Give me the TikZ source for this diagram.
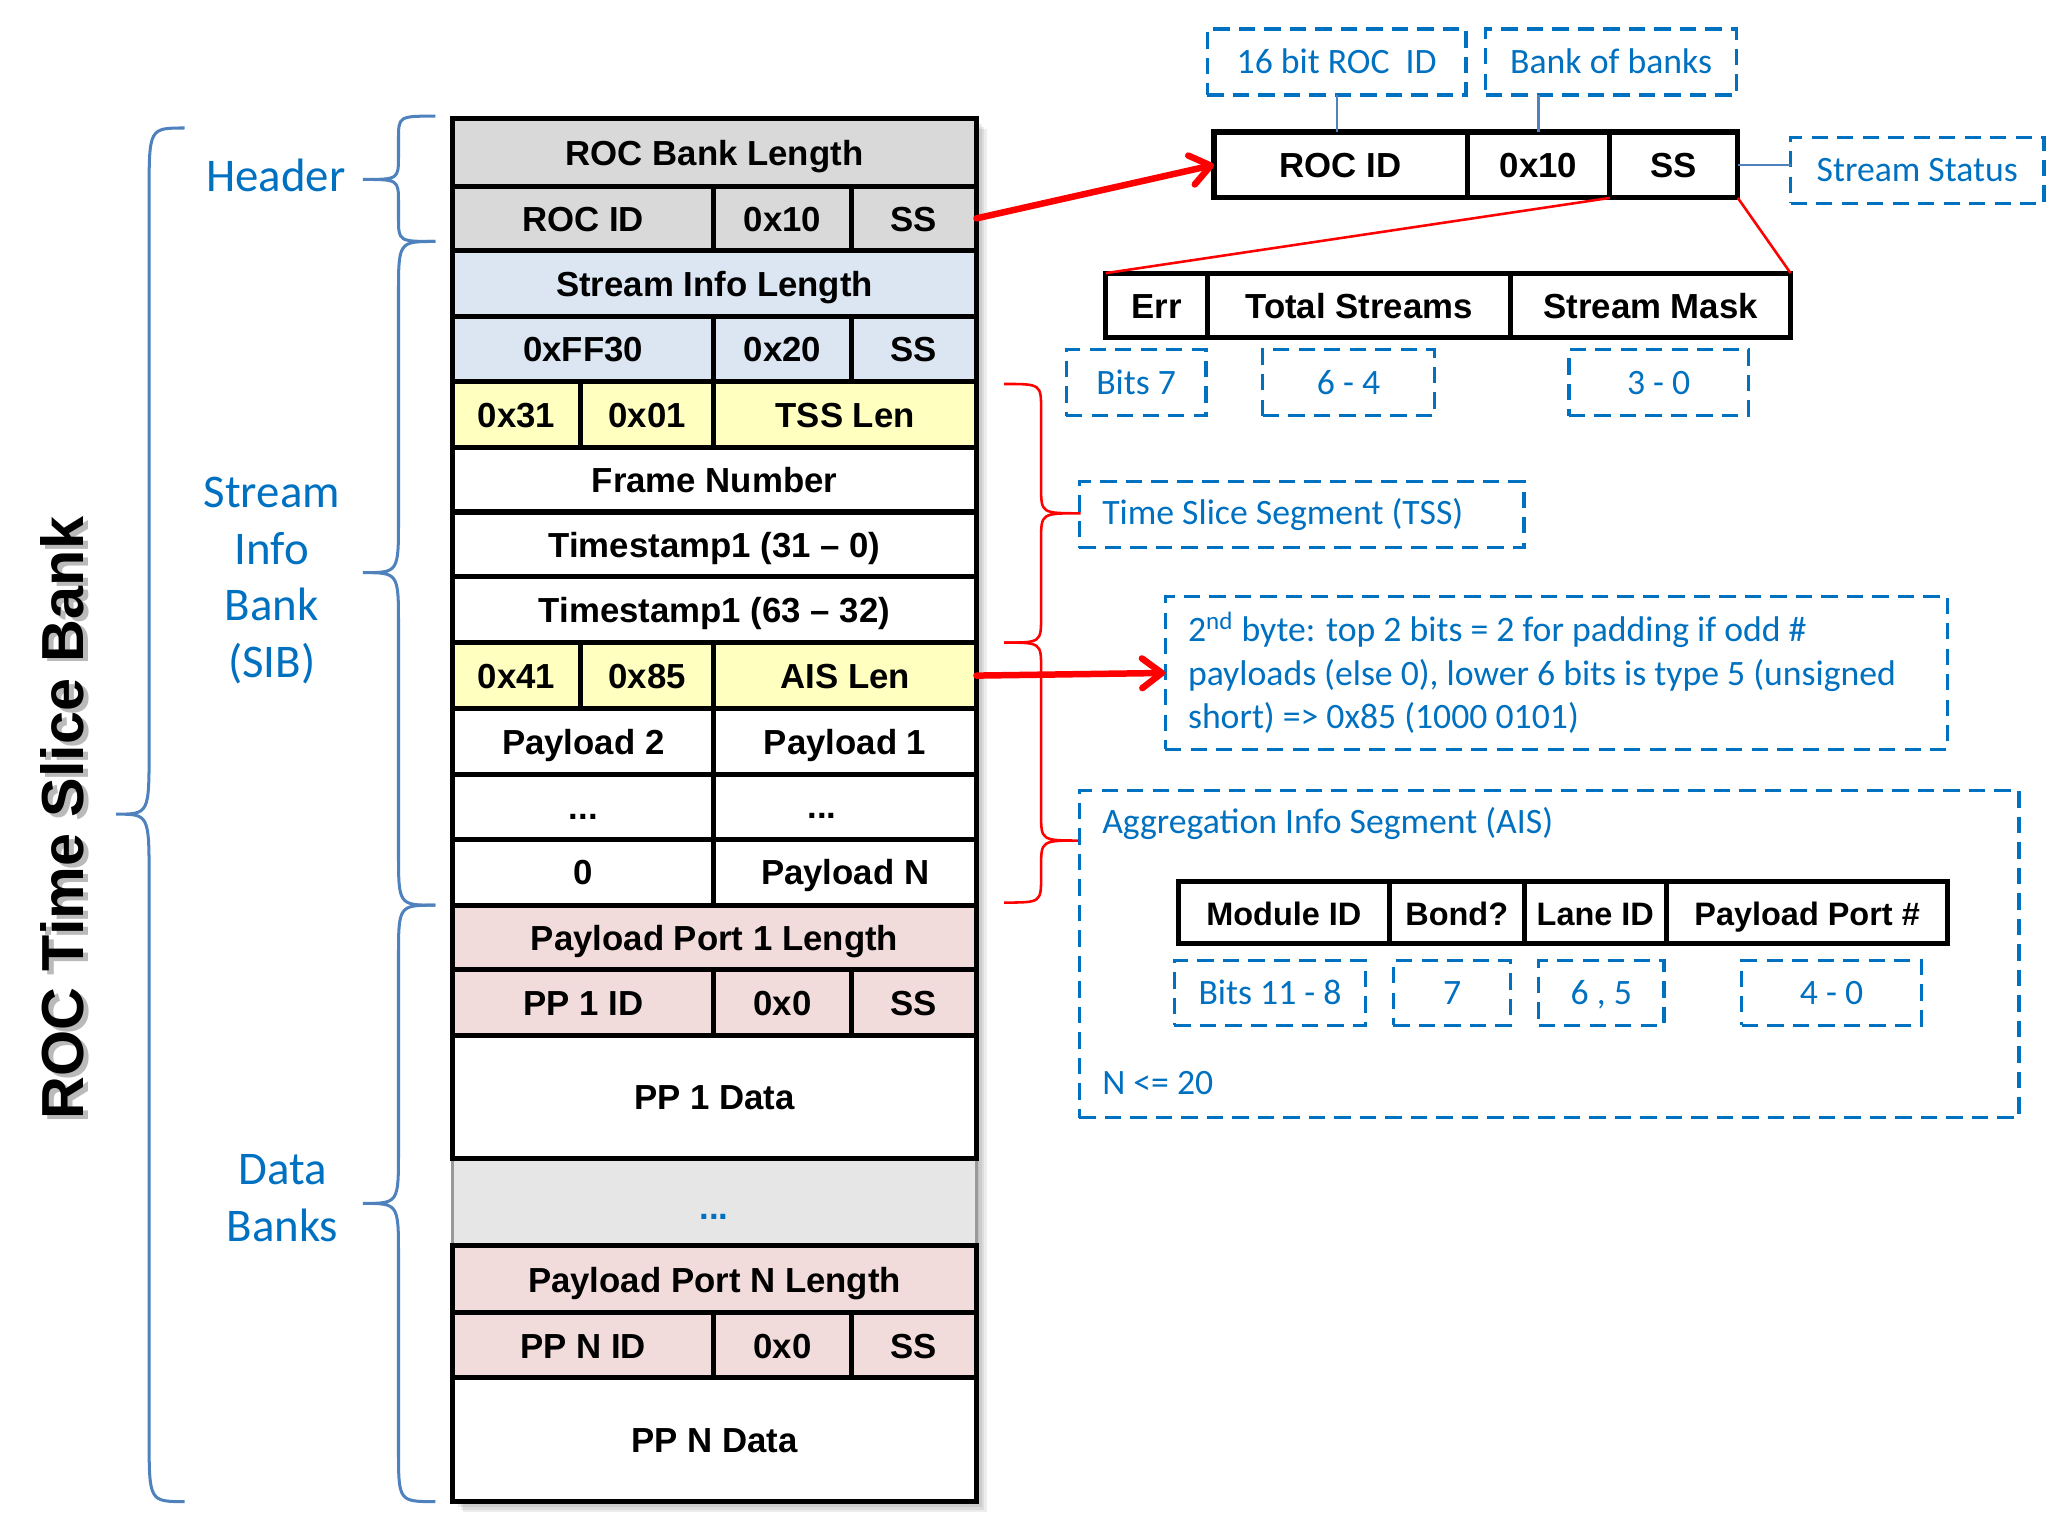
\documentclass[tikz,border=0pt]{standalone}
\usepackage{fontspec}
\setmainfont{Carlito}
\newfontfamily\arialfont{Liberation Sans}
\usetikzlibrary{arrows.meta,calc,fit,positioning}
\definecolor{HdrGray}{HTML}{D9D9D9}
\definecolor{InfoBlue}{HTML}{DCE6F2}
\definecolor{SegYellow}{HTML}{FFFFC0}
\definecolor{PortPink}{HTML}{F2DCDB}
\definecolor{GapGray}{HTML}{E6E6E6}
\definecolor{NoteBlue}{HTML}{0070C0}
\definecolor{BraceBlue}{HTML}{4F81BD}
\definecolor{Red}{HTML}{FF0000}
\newcommand{\boxfont}{\arialfont\bfseries\fontsize{15}{18}\selectfont}
\newcommand{\notefont}{\fontsize{15.4}{18.7}\selectfont}
\tikzset{cell/.style={draw=black,line width=2.2pt,inner sep=0pt,outer sep=0pt},celltext/.style={inner sep=0pt,font=\boxfont,text height=11pt,text depth=0pt},note/.style={draw=NoteBlue,line width=1.4pt,dash pattern=on 7pt off 4pt,inner sep=0pt,outer sep=0pt},notetext/.style={inner sep=0pt,text=NoteBlue,font=\notefont,text height=10pt,text depth=0pt},lbl/.style={text=NoteBlue,font=\notefont,inner sep=0pt},part/.style={text=NoteBlue,font=\fontsize{20.2}{24.4}\selectfont,align=center},curl/.style={draw=BraceBlue,line width=1.3pt},redcurl/.style={draw=Red,line width=1.1pt},zoomline/.style={draw=Red,line width=1.1pt},tagline/.style={draw=BraceBlue,line width=1pt},pointer/.style={draw=Red,line width=2.8pt,line cap=round,-{Straight Barb[length=3mm,width=4.5mm,round]}}}
\newcommand{\cell}[5][fill=white]{\node[cell,#1,fit={(#3)(#4)}] (#2) {}; \node[celltext] (#2t) at (#2.center) {#5};}
\newcommand{\dashnote}[4]{\node[note,fit={(#2)(#3)}] (#1) {}; \node[notetext] (#1t) at (#1.center) {#4};}
\newcommand{\curly}[8][curl]{\draw[#1] (#2,#5) .. controls (#3,#5) .. (#3,#5+#8) -- (#3,#6-#8) .. controls (#3,#6) .. (#4,#6) .. controls (#3,#6) .. (#3,#6+#8) -- (#3,#7-#8) .. controls (#3,#7) .. (#2,#7);}
\begin{document}
\begin{tikzpicture}[x=0.02cm,y=-0.02cm]
  \useasboundingbox (0,0) rectangle (1568,1166);
  \foreach \k in {1,...,4} \fill[black,opacity=.07] (343+2*\k,90+2*\k) rectangle (740+2*\k,1138+2*\k);
  \node[rotate=90,text=black!45,opacity=.6,font=\arialfont\bfseries\fontsize{25.6}{30}\selectfont] at (51,623) {ROC Time Slice Bank};
  \node[rotate=90,font=\arialfont\bfseries\fontsize{25.6}{30}\selectfont] (title) at (47,620) {ROC Time Slice Bank};
  \curly{140}{113}{88}{97}{617}{1138}{50}
  \curly{330}{302}{275}{88}{136}{183}{18}
  \curly{330}{302}{275}{183}{434}{686}{40}
  \curly{330}{302}{275}{686}{912}{1138}{40}
  \node[part] (hdr) at (209,133) {Header};
  \node[part] (sib) at (206,440) {Stream\\Info\\Bank\\(SIB)};
  \node[part] (dbk) at (214,908) {Data\\Banks};
  \cell[fill=GapGray,draw=black!40,line width=1.2pt]{gap}{343,878}{740,944}{}
  \cell[fill=HdrGray]{rbl}{343,90}{740,141}{ROC Bank Length}
  \cell[fill=HdrGray]{rid}{343,141}{541,190}{ROC ID}
  \cell[fill=HdrGray]{rten}{541,141}{645,190}{0x10}
  \cell[fill=HdrGray]{rss}{645,141}{740,190}{SS}
  \cell[fill=InfoBlue]{sil}{343,190}{740,240}{Stream Info Length}
  \cell[fill=InfoBlue]{sff}{343,240}{541,289}{0xFF30}
  \cell[fill=InfoBlue]{stw}{541,240}{645,289}{0x20}
  \cell[fill=InfoBlue]{sss}{645,240}{740,289}{SS}
  \cell[fill=SegYellow]{tthree}{343,289}{440,339}{0x31}
  \cell[fill=SegYellow]{tone}{440,289}{541,339}{0x01}
  \cell[fill=SegYellow]{tsslen}{541,289}{740,339}{TSS Len}
  \cell{frame}{343,339}{740,388}{Frame Number}
  \cell{tslo}{343,388}{740,437}{Timestamp1 (31 – 0)}
  \cell{tshi}{343,437}{740,487}{Timestamp1 (63 – 32)}
  \cell[fill=SegYellow]{afour}{343,487}{440,537}{0x41}
  \cell[fill=SegYellow]{aeight}{440,487}{541,537}{0x85}
  \cell[fill=SegYellow]{aislen}{541,487}{740,537}{AIS Len}
  \cell{pltwo}{343,537}{541,587}{Payload 2}
  \cell{plone}{541,537}{740,587}{Payload 1}
  \cell{dotsl}{343,587}{541,636}{...}
  \cell{dotsr}{541,587}{740,636}{}
  \node[celltext] (dotsrdots) at (623,611) {...};
  \cell{zero}{343,636}{541,686}{0}
  \cell{pln}{541,636}{740,686}{Payload N}
  \cell[fill=PortPink]{ponelen}{343,686}{740,735}{Payload Port 1 Length}
  \cell[fill=PortPink]{poneid}{343,735}{541,785}{PP 1 ID}
  \cell[fill=PortPink]{ponex}{541,735}{645,785}{0x0}
  \cell[fill=PortPink]{poness}{645,735}{740,785}{SS}
  \cell{ponedata}{343,785}{740,878}{PP 1 Data}
  \node[font=\boxfont,text=NoteBlue] (gapdots) at (541,922) {...};
  \cell[fill=PortPink]{pnlen}{343,944}{740,995}{Payload Port N Length}
  \cell[fill=PortPink]{pnid}{343,995}{541,1044}{PP N ID}
  \cell[fill=PortPink]{pnx}{541,995}{645,1044}{0x0}
  \cell[fill=PortPink]{pnss}{645,995}{740,1044}{SS}
  \cell{pndata}{343,1044}{740,1138}{PP N Data}
  \cell{ridz}{920,100}{1112,150}{ROC ID}
  \cell{rtenz}{1112,100}{1220,150}{0x10}
  \cell{rssz}{1220,100}{1317,150}{SS}
  \dashnote{idnote}{915,22}{1111,72}{16 bit ROC \ ID}
  \dashnote{bobnote}{1126,22}{1316,72}{Bank of banks}
  \dashnote{ssnote}{1357,104}{1549,154}{Stream Status}
  \draw[tagline] (idnote.south) -- (idnote.south |- ridz.north);
  \draw[tagline] (rtenz.north |- bobnote.south) -- (rtenz.north);
  \draw[tagline] (rssz.east) -- (rssz.east -| ssnote.west);
  \draw[pointer] (rss.east) -- (ridz.west);
  \cell{err}{838,207}{915,256}{Err}
  \cell{tot}{915,207}{1145,256}{Total Streams}
  \cell{mask}{1145,207}{1357,256}{Stream Mask}
  \draw[zoomline] (rssz.south west) -- (err.north west);
  \draw[zoomline] (rssz.south east) -- (mask.north east);
  \dashnote{berr}{808,265}{914,315}{Bits 7}
  \dashnote{btot}{957,265}{1087,315}{6 - 4}
  \dashnote{bmask}{1189,265}{1325,315}{3 - 0}
  \curly[redcurl]{761}{789}{819}{291}{389}{487}{20}
  \curly[redcurl]{761}{789}{819}{487}{637}{684}{20}
  \dashnote{tss}{818,365}{1155,415}{}
  \node[lbl,anchor=west] (tsstxt) at (835,390) {Time Slice Segment (TSS)};
  \dashnote{padnote}{883,452}{1476,568}{}
  \node[lbl,anchor=west,align=left] (padtxt) at (900,510) {2\textsuperscript{nd} byte: top 2 bits = 2 for padding if odd \#\\payloads (else 0), lower 6 bits is type 5 (unsigned\\short) => 0x85 (1000 0101)};
  \draw[pointer] (aislen.east) -- (padnote.west);
  \dashnote{aisbox}{818,599}{1530,847}{}
  \node[lbl,anchor=west] (aistxt) at (835,624) {Aggregation Info Segment (AIS)};
  \begin{scope}
    \renewcommand{\boxfont}{\arialfont\bfseries\fontsize{14}{17}\selectfont}
    \cell{mod}{893,668}{1053,715}{Module ID}
    \cell{bond}{1053,668}{1155,715}{Bond?}
    \cell{lane}{1155,668}{1263,715}{Lane ID}
    \cell{port}{1263,668}{1476,715}{Payload Port \#}
  \end{scope}
  \dashnote{bmod}{890,728}{1035,777}{Bits 11 - 8}
  \dashnote{bbond}{1056,728}{1145,777}{7}
  \dashnote{blane}{1166,728}{1261,777}{6 , 5}
  \dashnote{bport}{1320,728}{1456,777}{4 - 0}
  \node[lbl,anchor=west] (ntxt) at (835,821) {N <= 20};
\end{tikzpicture}
\end{document}
